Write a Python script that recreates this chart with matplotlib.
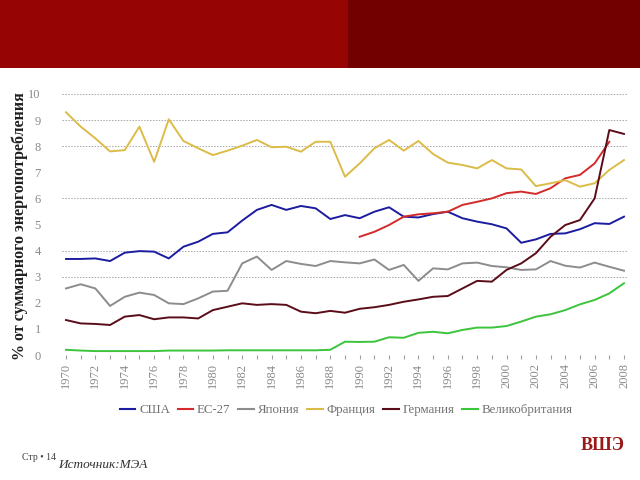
import matplotlib
matplotlib.use("Agg")
import matplotlib.pyplot as plt
from matplotlib.patches import Rectangle
from matplotlib.lines import Line2D

years = list(range(1970, 2009))
years_eu = list(range(1990, 2008))

usa = [3.68, 3.68, 3.70, 3.60, 3.92, 3.98, 3.96, 3.70, 4.15, 4.34,
       4.64, 4.70, 5.15, 5.56, 5.75, 5.56, 5.71, 5.62, 5.21, 5.36,
       5.24, 5.49, 5.66, 5.30, 5.27, 5.40, 5.49, 5.24, 5.11, 5.01,
       4.85, 4.30, 4.43, 4.64, 4.66, 4.82, 5.05, 5.02, 5.30]
eu27 = [4.53, 4.72, 4.98, 5.30, 5.39, 5.43, 5.49, 5.75, 5.87, 6.00,
        6.20, 6.26, 6.17, 6.39, 6.77, 6.90, 7.34, 8.17]
japan = [2.55, 2.71, 2.55, 1.88, 2.23, 2.39, 2.30, 1.98, 1.95, 2.17,
         2.43, 2.46, 3.51, 3.77, 3.26, 3.60, 3.49, 3.41, 3.60, 3.55,
         3.51, 3.66, 3.26, 3.45, 2.84, 3.32, 3.28, 3.51, 3.54, 3.41,
         3.36, 3.26, 3.28, 3.60, 3.42, 3.35, 3.54, 3.38, 3.23]
france = [9.30, 8.75, 8.30, 7.80, 7.85, 8.75, 7.40, 9.03, 8.20, 7.92,
          7.66, 7.83, 8.02, 8.24, 7.96, 7.98, 7.79, 8.17, 8.17, 6.83,
          7.34, 7.92, 8.24, 7.83, 8.20, 7.70, 7.37, 7.28, 7.15, 7.47,
          7.15, 7.11, 6.47, 6.58, 6.70, 6.45, 6.58, 7.09, 7.47]
germany = [1.34, 1.21, 1.19, 1.15, 1.47, 1.53, 1.37, 1.44, 1.44, 1.40,
           1.72, 1.85, 1.98, 1.92, 1.95, 1.92, 1.66, 1.60, 1.69, 1.62,
           1.77, 1.83, 1.92, 2.04, 2.13, 2.23, 2.26, 2.55, 2.84, 2.81,
           3.26, 3.51, 3.90, 4.53, 4.98, 5.17, 6.00, 8.62, 8.47]
uk = [0.20, 0.17, 0.15, 0.15, 0.15, 0.15, 0.15, 0.17, 0.17, 0.17,
      0.17, 0.18, 0.18, 0.18, 0.18, 0.18, 0.18, 0.18, 0.20, 0.51,
      0.50, 0.51, 0.68, 0.66, 0.85, 0.89, 0.83, 0.96, 1.05, 1.05,
      1.11, 1.28, 1.47, 1.56, 1.72, 1.94, 2.11, 2.36, 2.75]

labels = ["США", "ЕС-27", "Япония", "Франция", "Германия", "Великобритания"]
colors = ["#1c1ca0", "#d42a2a", "#8c8c8c", "#dcbc48", "#5a0c18", "#3cc43c"]
ylabel = "% от суммарного энергопотребления"
grid_levels = [3, 4, 6, 8, 9, 10]

plt.rcParams['font.family'] = ['Liberation Serif', 'DejaVu Serif']

fig = plt.figure(figsize=(6.4, 4.8), dpi=100)

# top banner
fig.patches.append(Rectangle((0, 1 - 68/480), 348/640, 68/480, transform=fig.transFigure,
                             facecolor="#960404", edgecolor="none", zorder=0))
fig.patches.append(Rectangle((348/640, 1 - 68/480), 1 - 348/640, 68/480, transform=fig.transFigure,
                             facecolor="#720000", edgecolor="none", zorder=0))

ax = fig.add_axes([61.6/640, 125/480, 566.8/640, 261/480])
for g in grid_levels:
    ax.axhline(g, color="#a8a8a8", lw=0.7, linestyle=(0, (1.5, 1.5)), zorder=0)

series = [(years, usa), (years_eu, eu27), (years, japan), (years, france), (years, germany), (years, uk)]
for (xs, ys), c, lab in zip(series, colors, labels):
    ax.plot(xs, ys, color=c, lw=1.4, label=lab, solid_joinstyle='round', zorder=2)

ax.set_xlim(1969.7, 2008.3)
ax.set_ylim(0, 10)
ax.set_yticks(range(0, 11))
ax.set_xticks(years)
ax.set_xticklabels([str(y) if (y - 1970) % 2 == 0 else "" for y in years], rotation=90)
ax.tick_params(axis='x', colors="#a0a0a0", labelsize=9, length=3, width=0.8, pad=3, labelcolor="#8a8a8a")
ax.tick_params(axis='y', length=0, labelsize=9, labelcolor="#8a8a8a", pad=15)
for s in ["left", "right", "top", "bottom"]:
    ax.spines[s].set_visible(False)

fig.text(20/640, 1 - 226/480, ylabel, rotation=90, ha='center', va='center',
         fontsize=11.5, fontweight='bold', color='#202020')

handles = [Line2D([0], [0], color=c, lw=1.5) for c in colors]
fig.legend(handles, labels, loc='center', bbox_to_anchor=(346/640, 1 - 410/480), ncol=6,
           frameon=False, fontsize=9.3, handlelength=1.2, handletextpad=0.3, columnspacing=0.6,
           labelcolor="#707070")

fig.text(22/640, 1 - 458/480, "Стр • 14", fontsize=7, color="#404040", va='center')
fig.text(58/640, 1 - 465/480, "Источник:МЭА", fontsize=9.5, style='italic', color="#303030", va='center')
fig.text(625/640, 1 - 446/480, "ВШЭ", fontsize=13, fontweight='bold', color="#9a1818",
         ha='right', va='center')

fig.savefig("out.png", dpi=100)
